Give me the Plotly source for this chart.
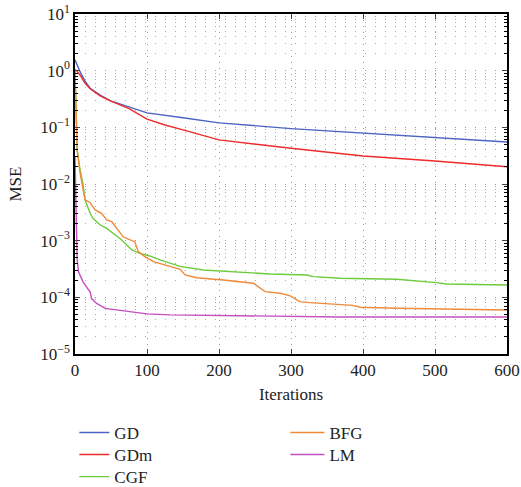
import plotly.graph_objects as go

# ---- data ----
gd_iter = [0, 2, 7, 14, 21, 35, 50, 60, 75, 100, 150, 200, 300, 400, 500, 600]
gd_mse = [1.55, 1.35, 0.96, 0.65, 0.49, 0.37, 0.29, 0.265, 0.23, 0.18, 0.148, 0.12, 0.095, 0.079, 0.066, 0.055]

gdm_iter = [0, 2, 7, 14, 21, 35, 50, 60, 75, 100, 125, 150, 200, 300, 400, 500, 600]
gdm_mse = [1.05, 1.0, 0.84, 0.6, 0.48, 0.36, 0.29, 0.255, 0.214, 0.14, 0.11, 0.09, 0.06, 0.0427, 0.0312, 0.0255, 0.0202]

cgf_iter = [0, 1, 3, 7, 11, 14, 21, 25, 35, 44, 53, 62, 72, 79, 90, 104, 118, 132, 146, 178, 224, 271, 322, 331, 368, 447, 502, 516, 600]
cgf_mse = [1.0, 0.3, 0.04, 0.0178, 0.0102, 0.0052, 0.00304, 0.00248, 0.00189, 0.00165, 0.00135, 0.0011, 0.00084,
           0.000685, 0.000598, 0.000537, 0.000457, 0.000403, 0.000352, 0.000304, 0.000277, 0.000258, 0.000248,
           0.000232, 0.000217, 0.000208, 0.000182, 0.000172, 0.000165]

bfg_iter = [0, 1, 3, 7, 11, 14, 21, 28, 37, 44, 51, 58, 67, 74, 83, 88, 97, 109, 132, 146, 153, 169, 206, 248,
            264, 285, 299, 312, 326, 368, 386, 396, 447, 600]
bfg_mse = [1.0, 0.316, 0.0398, 0.0158, 0.0089, 0.00525, 0.00468, 0.00348, 0.00304, 0.00232, 0.00216, 0.00165,
           0.00117, 0.00106, 0.00096, 0.00064, 0.000522, 0.000427, 0.000359, 0.000313, 0.000248, 0.000222,
           0.000202, 0.000177, 0.000126, 0.000118, 0.000106, 8.4e-5, 8.05e-5, 7.3e-5, 7.2e-5, 6.67e-5, 6.4e-5, 5.98e-5]

lm_iter = [0, 1, 2, 3, 5, 11, 18, 21, 23, 30, 42, 62, 76, 100, 132, 368, 600]
lm_mse = [0.03, 0.005, 0.0007, 0.00045, 0.00028, 0.00019, 0.00014, 0.000125, 9.5e-5, 7.8e-5, 6.4e-5, 6.0e-5,
          5.6e-5, 5.1e-5, 4.9e-5, 4.5e-5, 4.5e-5]

series_names = ["GD", "GDm", "CGF", "BFG", "LM"]
y_tick_vals = [1e-5, 1e-4, 1e-3, 1e-2, 1e-1, 1e0, 1e1]
y_tick_text = ["10<sup>−5</sup>", "10<sup>−4</sup>", "10<sup>−3</sup>", "10<sup>−2</sup>",
               "10<sup>−1</sup>", "10<sup>0</sup>", "10<sup>1</sup>"]
x_tick_vals = [0, 100, 200, 300, 400, 500, 600]

colors = ["#4a63c4", "#ee2a2a", "#6ccc3c", "#f08a3a", "#c44fbe"]
FONT = "Liberation Serif"

fig = go.Figure()
data = [(gd_iter, gd_mse), (gdm_iter, gdm_mse), (cgf_iter, cgf_mse), (bfg_iter, bfg_mse), (lm_iter, lm_mse)]
legend_ids = ["legend", "legend2", "legend3", "legend4", "legend5"]
for (xs, ys), name, c, lg in zip(data, series_names, colors, legend_ids):
    fig.add_trace(go.Scatter(x=xs, y=ys, mode="lines", name=name,
                             line=dict(color=c, width=1.4), legend=lg))

minor_vals = [m * 10 ** e for e in range(-5, 1) for m in range(2, 10)]

# legend placement (paper coords): two columns, three rows
col_x = [-0.0015, -0.0015, -0.0015, 0.487, 0.487]
row_y = [-0.232, -0.297, -0.362, -0.232, -0.297]
item_w = [30, 30, 30, 34, 34]
legend_layouts = {}
for lg, lx, ly, iw in zip(legend_ids, col_x, row_y, item_w):
    legend_layouts[lg] = dict(x=lx, y=ly, xanchor="left", yanchor="middle", itemwidth=iw,
                              bgcolor="rgba(0,0,0,0)", font=dict(size=17))

fig.update_layout(
    width=521, height=487,
    margin=dict(l=75, r=14, t=14, b=133, autoexpand=False),
    paper_bgcolor="white", plot_bgcolor="white",
    font=dict(family=FONT, size=17, color="#222"),
    xaxis=dict(range=[0, 600], tickvals=x_tick_vals, ticks="inside", ticklen=5,
               showline=True, linecolor="black", linewidth=1.5, mirror="ticks",
               showgrid=True, gridcolor="#999", griddash="1px,5px", gridwidth=1,
               zeroline=False, tickfont=dict(size=17), automargin=False,
               title=dict(text="Iterations", font=dict(size=17), standoff=9)),
    yaxis=dict(type="log", range=[-5, 1], tickvals=y_tick_vals, ticktext=y_tick_text,
               ticks="inside", ticklen=5, automargin=False,
               showline=True, linecolor="black", linewidth=1.5, mirror="ticks",
               showgrid=True, gridcolor="#999", griddash="1px,9px", gridwidth=1,
               zeroline=False, tickfont=dict(size=17),
               minor=dict(tickvals=minor_vals, ticks="inside", ticklen=3, tickcolor="black",
                          showgrid=True, gridcolor="#aaa", griddash="1px,9px", gridwidth=1),
               title=dict(text="MSE", font=dict(size=17), standoff=14)),
    showlegend=True,
    **legend_layouts,
)

fig.write_html("out.html", config={"displayModeBar": False},
               post_script="document.body.style.margin='0';document.body.style.overflow='hidden';")
